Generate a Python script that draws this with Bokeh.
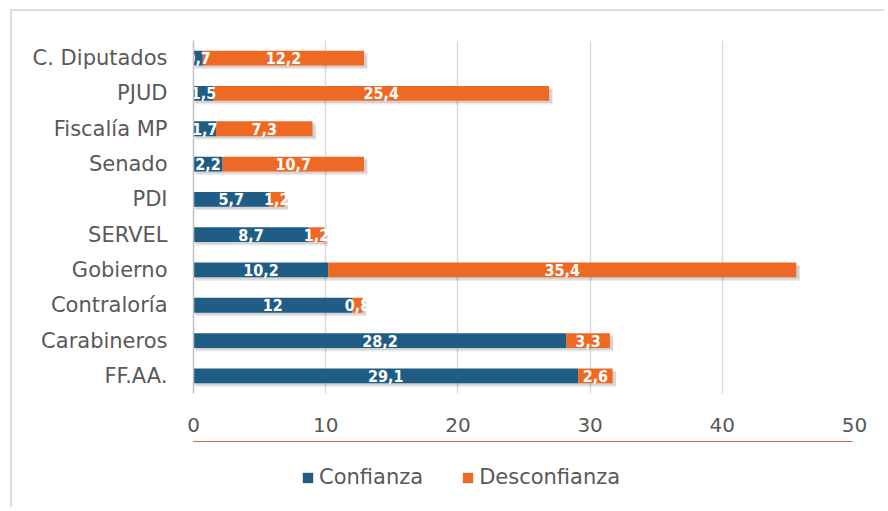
from bokeh.plotting import figure
from bokeh.layouts import column
from bokeh.models import (ColumnDataSource, FactorRange, Range1d, Legend, LegendItem,
                          FixedTicker)
from bokeh.transform import dodge
from bokeh.core.properties import value
from bokeh.embed import file_html
from bokeh.resources import INLINE

categories = ["C. Diputados", "PJUD", "Fiscalía MP", "Senado", "PDI", "SERVEL",
              "Gobierno", "Contraloría", "Carabineros", "FF.AA."]
confianza = [0.7, 1.5, 1.7, 2.2, 5.7, 8.7, 10.2, 12, 28.2, 29.1]
desconfianza = [12.2, 25.4, 7.3, 10.7, 1.2, 1.2, 35.4, 0.8, 3.3, 2.6]
series_names = ["Confianza", "Desconfianza"]
x_ticks = [0, 10, 20, 30, 40, 50]

BLUE = "#1f5d84"
ORANGE = "#ee6a24"
GRAY_TXT = "#595959"
BORDER = "2px solid #dcdcdc"


def fmt(v):
    return f"{v:g}".replace(".", ",")


total = [c + d for c, d in zip(confianza, desconfianza)]
src = ColumnDataSource(dict(
    cat=categories,
    conf=confianza,
    desc=desconfianza,
    total=total,
    conf_mid=[c / 2 for c in confianza],
    desc_mid=[c + d / 2 for c, d in zip(confianza, desconfianza)],
    conf_lbl=[fmt(v) for v in confianza],
    desc_lbl=[fmt(v) for v in desconfianza],
    shadow_right=[t + 0.25 for t in total],
))

fig = figure(frame_width=659, frame_height=351, output_backend="svg", toolbar_location=None,
             y_range=FactorRange(*reversed(categories)), x_range=Range1d(0, 50),
             min_border_left=181, min_border_right=32, min_border_top=29,
             min_border_bottom=50)
fig.styles = {"margin-left": "10px", "margin-top": "9px",
              "border-left": BORDER, "border-top": BORDER}
fig.outline_line_color = None
fig.background_fill_color = "white"
fig.border_fill_color = "white"

# soft drop shadows
fig.hbar(y=dodge("cat", -0.10, range=fig.y_range), left=0.15, right="shadow_right",
         height=0.42, source=src, fill_color="black", fill_alpha=0.08, line_color=None)
fig.hbar(y=dodge("cat", -0.06, range=fig.y_range), left=0.1, right="shadow_right",
         height=0.42, source=src, fill_color="black", fill_alpha=0.10, line_color=None)

fig.hbar(y="cat", left=0, right="conf", height=0.42, source=src,
         fill_color=BLUE, line_color=None)
fig.hbar(y="cat", left="conf", right="total", height=0.42, source=src,
         fill_color=ORANGE, line_color=None)

lbl_font = value("DejaVu Sans Condensed")
fig.text(x="conf_mid", y="cat", text="conf_lbl", source=src, text_color="white",
         text_font=lbl_font, text_font_style="bold", text_font_size="16px",
         text_align="center", text_baseline="middle")
fig.text(x="desc_mid", y="cat", text="desc_lbl", source=src, text_color="white",
         text_font=lbl_font, text_font_style="bold", text_font_size="16px",
         text_align="center", text_baseline="middle")

fig.xgrid.grid_line_color = "#d9d9d9"
fig.xgrid.grid_line_width = 1.5
fig.ygrid.grid_line_color = None
fig.xaxis.ticker = FixedTicker(ticks=x_ticks)
fig.xaxis.axis_line_color = None
fig.xaxis.major_tick_line_color = None
fig.xaxis.minor_tick_line_color = None
fig.xaxis.major_label_text_font = "DejaVu Sans"
fig.xaxis.major_label_text_font_size = "20px"
fig.xaxis.major_label_text_color = GRAY_TXT
fig.xaxis.major_label_standoff = 18

fig.yaxis.axis_line_color = "#bfbfbf"
fig.yaxis.axis_line_width = 1.5
fig.yaxis.major_tick_line_color = None
fig.yaxis.minor_tick_line_color = None
fig.yaxis.major_label_text_font = "DejaVu Sans"
fig.yaxis.major_label_text_font_size = "21px"
fig.yaxis.major_label_text_color = GRAY_TXT
fig.yaxis.major_label_standoff = 20

# legend strip underneath the chart (its bars fall outside its own view; only the key shows)
leg = figure(width=872, height=66, output_backend="svg", toolbar_location=None,
             x_axis_type=None, y_axis_type=None, min_border=0,
             x_range=Range1d(0, 1), y_range=Range1d(-2, -1))
leg.styles = {"margin-left": "10px", "border-left": BORDER}
leg.outline_line_color = None
leg.background_fill_color = "white"
leg.border_fill_color = "white"
k1 = leg.hbar(y="conf", left=0, right="conf", height=0.5, source=src,
              fill_color=BLUE, line_color=None)
k2 = leg.hbar(y="desc", left=0, right="desc", height=0.5, source=src,
              fill_color=ORANGE, line_color=None)

legend = Legend(items=[LegendItem(label=series_names[0], renderers=[k1]),
                       LegendItem(label=series_names[1], renderers=[k2])],
                orientation="horizontal", location=(108, 18))
legend.border_line_color = None
legend.background_fill_alpha = 0
legend.padding = 0
legend.margin = 0
legend.glyph_width = 13
legend.glyph_height = 13
legend.label_standoff = 5
legend.spacing = 38
legend.label_height = 20
legend.label_text_font = "DejaVu Sans"
legend.label_text_font_size = "21px"
legend.label_text_color = GRAY_TXT
leg.add_layout(legend, "center")

p = column(fig, leg, spacing=0)

open("out.html", "w").write(file_html(p, INLINE))
